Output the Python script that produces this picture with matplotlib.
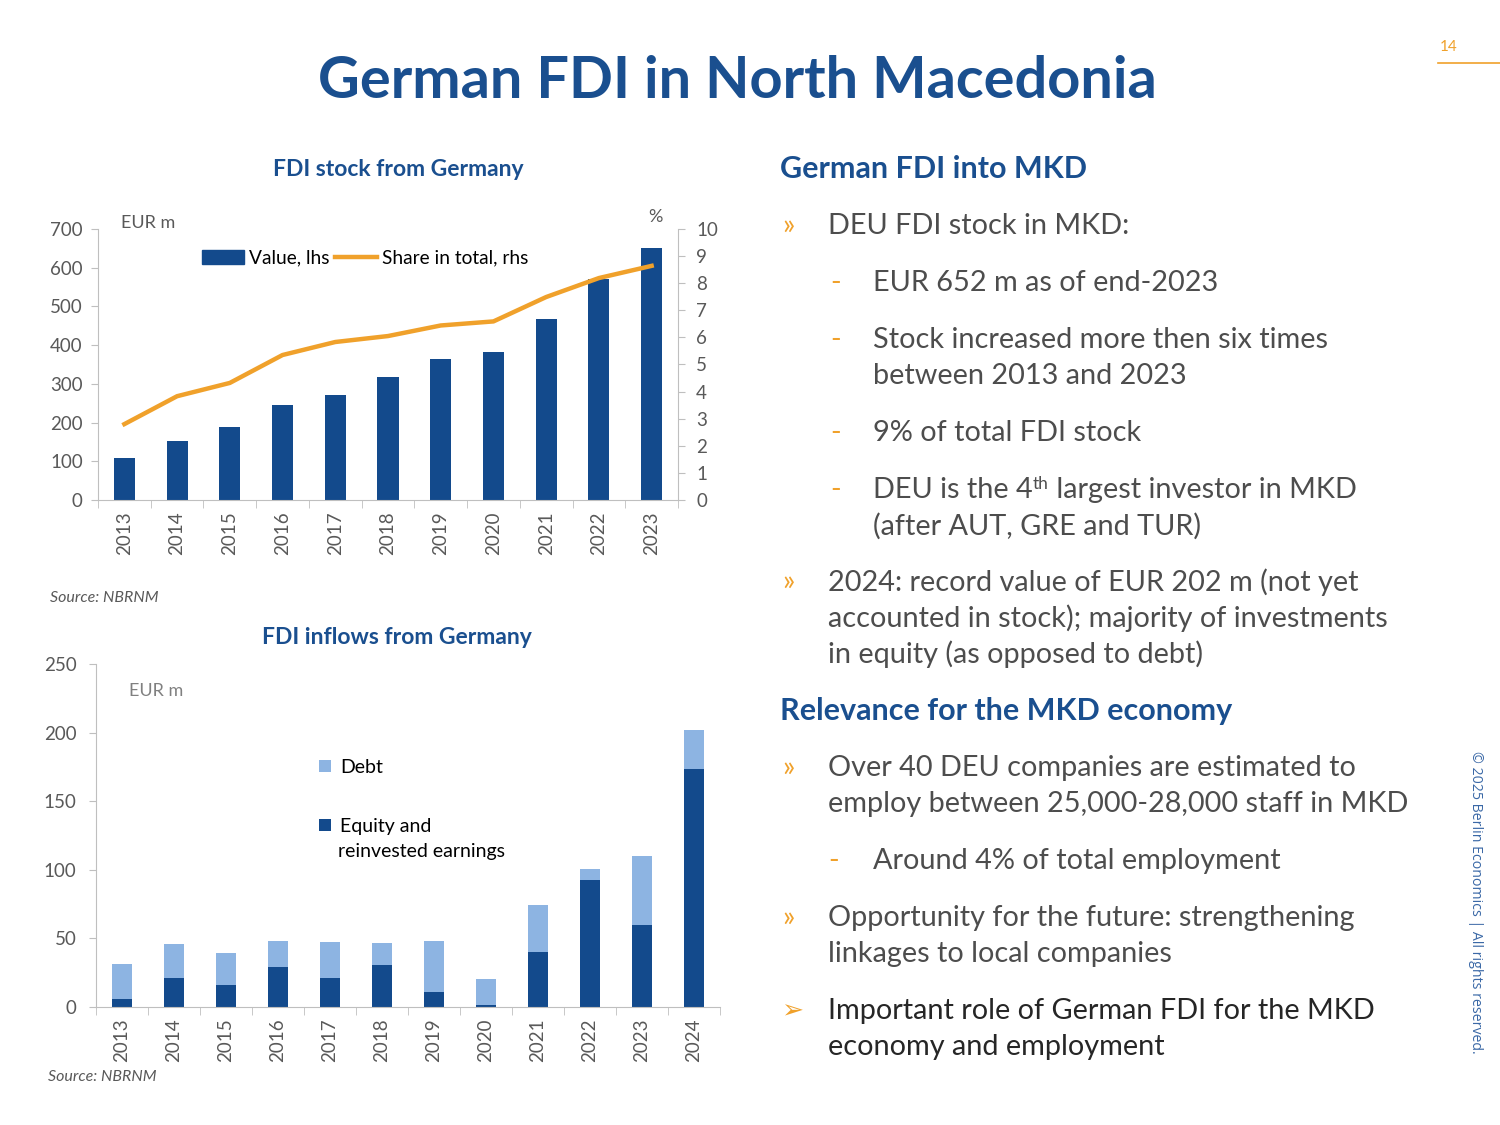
import numpy as np
import matplotlib.pyplot as plt
from matplotlib.patches import Patch
from matplotlib.lines import Line2D

plt.rcParams['font.family'] = ['Lato', 'DejaVu Sans']

W, H = 1500, 1125

# data
years_stock = ["2013", "2014", "2015", "2016", "2017", "2018",
               "2019", "2020", "2021", "2022", "2023"]
stock_value = [109, 153, 189, 245, 271, 319, 363, 383, 468, 570, 652]
stock_share = [2.80, 3.83, 4.32, 5.35, 5.83, 6.05, 6.44, 6.59, 7.49, 8.19, 8.64]

years_flow = ["2013", "2014", "2015", "2016", "2017", "2018",
              "2019", "2020", "2021", "2022", "2023", "2024"]
flow_equity = [5.6, 20.9, 16.0, 29.4, 20.9, 30.6, 10.9, 1.2, 39.9, 92.9, 60.1, 173.6]
flow_debt = [26.0, 24.8, 23.2, 19.0, 26.3, 15.8, 37.5, 19.2, 34.5, 7.5, 50.3, 28.5]

dark = "#134a8c"
light = "#8db4e2"
orange = "#f0a12b"
navy = "#1a4f8f"
grey_txt = "#595959"
body = "#4d4d4d"
spine_c = "#bfbfbf"


def fx(x):
    return x / W


def fy(y):
    return 1 - y / H


fig = plt.figure(figsize=(15, 11.25), dpi=100)
fig.patch.set_facecolor("white")

# full-page overlay for the slide text
tx = fig.add_axes([0, 0, 1, 1])
tx.set_xlim(0, 1)
tx.set_ylim(0, 1)
tx.axis("off")

# headline + page number
tx.text(fx(737), fy(82), "German FDI in North Macedonia", ha="center", va="center",
        fontsize=41.6, fontweight="bold", color=navy)
tx.text(fx(1440), fy(47), "14", ha="left", va="center", fontsize=11, color=orange)
tx.plot([fx(1438), fx(1500)], [fy(63), fy(63)], color=orange, lw=1.2)


def style_axis(ax, ypad):
    for s in ["top", "right"]:
        ax.spines[s].set_visible(False)
    for s in ["left", "bottom"]:
        ax.spines[s].set_color(spine_c)
    ax.tick_params(axis="y", colors=spine_c, labelcolor=grey_txt, labelsize=13.5,
                   length=5, pad=ypad)
    ax.tick_params(axis="x", which="major", length=0, labelcolor=grey_txt,
                   labelsize=13.5, rotation=90, pad=8)
    ax.tick_params(axis="x", which="minor", length=6, color=spine_c)
    ax.set_facecolor("none")


# ---- FDI stock chart
ax1 = fig.add_axes([fx(98), fy(500), fx(678 - 98), (500 - 229) / H])
xs = np.arange(len(years_stock))
ax1.bar(xs, stock_value, width=0.4, color=dark, zorder=2)
ax1.set_xlim(-0.5, len(xs) - 0.5)
ax1.set_ylim(0, 700)
ax1.set_yticks(range(0, 701, 100))
ax1.set_xticks(xs, years_stock)
ax1.set_xticks(np.arange(-0.5, len(xs)), minor=True)
style_axis(ax1, 6)

ax1b = ax1.twinx()
ax1b.plot(xs, stock_share, color=orange, lw=3.2, zorder=3)
ax1b.set_ylim(0, 10)
ax1b.set_yticks(range(0, 11))
for s in ["top", "left", "bottom"]:
    ax1b.spines[s].set_visible(False)
ax1b.spines["right"].set_color(spine_c)
ax1b.tick_params(axis="y", colors=spine_c, labelcolor=grey_txt, labelsize=13.5,
                 length=5, pad=8)

ax1b.legend(handles=[Patch(color=dark, label="Value, lhs"),
                     Line2D([], [], color=orange, lw=3.2, label="Share in total, rhs")],
            loc="center left", bbox_to_anchor=(fx(202), fy(258)), bbox_transform=fig.transFigure,
            ncol=2, frameon=False, fontsize=13.8, handlelength=2.2, handleheight=0.8,
            handletextpad=0.25, columnspacing=0.3, borderaxespad=0, borderpad=0)

tx.text(fx(121), fy(223), "EUR m", fontsize=13, color=grey_txt, va="center")
tx.text(fx(655), fy(217), "%", fontsize=13, color=grey_txt, va="center", ha="center")
tx.text(fx(398), fy(169), "FDI stock from Germany", ha="center", va="center",
        fontsize=16.5, fontweight="bold", color=navy)
tx.text(fx(50), fy(598), "Source: NBRNM", ha="left", va="center", fontsize=11.5,
        style="italic", color=grey_txt)

# ---- FDI inflow chart
ax2 = fig.add_axes([fx(96), fy(1007), fx(720 - 96), (1007 - 664) / H])
xf = np.arange(len(years_flow))
ax2.bar(xf, flow_equity, width=0.4, color=dark, zorder=2, label="Equity and")
ax2.bar(xf, flow_debt, width=0.4, bottom=flow_equity, color=light, zorder=2, label="Debt")
ax2.set_xlim(-0.5, len(xf) - 0.5)
ax2.set_ylim(0, 250)
ax2.set_yticks(range(0, 251, 50))
ax2.set_xticks(xf, years_flow)
ax2.set_xticks(np.arange(-0.5, len(xf)), minor=True)
style_axis(ax2, 9)

h, l = ax2.get_legend_handles_labels()
ax2.legend(h[::-1], l[::-1], loc="upper left", bbox_to_anchor=(fx(319), fy(759)),
           bbox_transform=fig.transFigure, frameon=False, fontsize=14,
           handlelength=0.6, handleheight=0.6, handletextpad=0.5, labelspacing=2.16,
           borderaxespad=0, borderpad=0)
# second line of the equity label, as in the original legend
tx.text(fx(338), fy(852), "reinvested earnings", ha="left", va="center",
        fontsize=14, color="black")

tx.text(fx(129), fy(691), "EUR m", fontsize=13, color="#808080", va="center")
tx.text(fx(397), fy(637), "FDI inflows from Germany", ha="center", va="center",
        fontsize=16.5, fontweight="bold", color=navy)
tx.text(fx(48), fy(1077), "Source: NBRNM", ha="left", va="center", fontsize=11.5,
        style="italic", color=grey_txt)

# ---- text column
BODY = 20.8
DY = 3  # va="center" sits a little high for this font


def header(y, s):
    tx.text(fx(780), fy(y + DY), s, fontsize=22, fontweight="bold", color=navy, va="center")


def bullet(y, lines):
    tx.text(fx(782), fy(y + DY), "»", fontsize=BODY, color=orange, va="center")
    for i, s in enumerate(lines):
        tx.text(fx(828), fy(y + DY + 36 * i), s, fontsize=BODY, color=body, va="center")


def sub(y, lines, xd=830):
    tx.text(fx(xd), fy(y + DY), "-", fontsize=BODY, color=orange, va="center")
    for i, s in enumerate(lines):
        tx.text(fx(873), fy(y + DY + 36 * i), s, fontsize=BODY, color=body, va="center")


header(166, "German FDI into MKD")
bullet(223, ["DEU FDI stock in MKD:"])
sub(280, ["EUR 652 m as of end-2023"])
sub(337, ["Stock increased more then six times", "between 2013 and 2023"])
sub(430, ["9% of total FDI stock"])
tx.text(fx(830), fy(487 + DY), "-", fontsize=BODY, color=orange, va="center")
t1 = tx.text(fx(873), fy(487 + DY), "DEU is the 4", fontsize=BODY, color=body, va="center")
t2 = tx.annotate("th", xy=(1, 1.04), xycoords=t1, ha="left", va="top", fontsize=12.5,
                 color=body)
tx.annotate(" largest investor in MKD", xy=(1, 0), xycoords=(t2, t1), ha="left",
            va="bottom", fontsize=BODY, color=body)
tx.text(fx(873), fy(523 + DY), "(after AUT, GRE and TUR)", fontsize=BODY, color=body,
        va="center")
bullet(579, ["2024: record value of EUR 202 m (not yet",
             "accounted in stock); majority of investments",
             "in equity (as opposed to debt)"])
header(708, "Relevance for the MKD economy")
bullet(765, ["Over 40 DEU companies are estimated to",
             "employ between 25,000-28,000 staff in MKD"])
sub(858, ["Around 4% of total employment"], xd=828)
bullet(915, ["Opportunity for the future: strengthening",
             "linkages to local companies"])
tx.text(fx(781), fy(1008 + DY), "➢", fontsize=19, color=orange, va="center",
        family="DejaVu Sans")
tx.text(fx(828), fy(1008 + DY), "Important role of German FDI for the MKD", fontsize=BODY,
        color="#262626", va="center")
tx.text(fx(828), fy(1044 + DY), "economy and employment", fontsize=BODY,
        color="#262626", va="center")

tx.text(fx(1475), fy(902), "© 2025 Berlin Economics | All rights reserved.",
        rotation=-90, ha="center", va="center", fontsize=10.2, color="#3a68a6",
        family="Open Sans")

fig.savefig("out.png", dpi=100, facecolor="white")
